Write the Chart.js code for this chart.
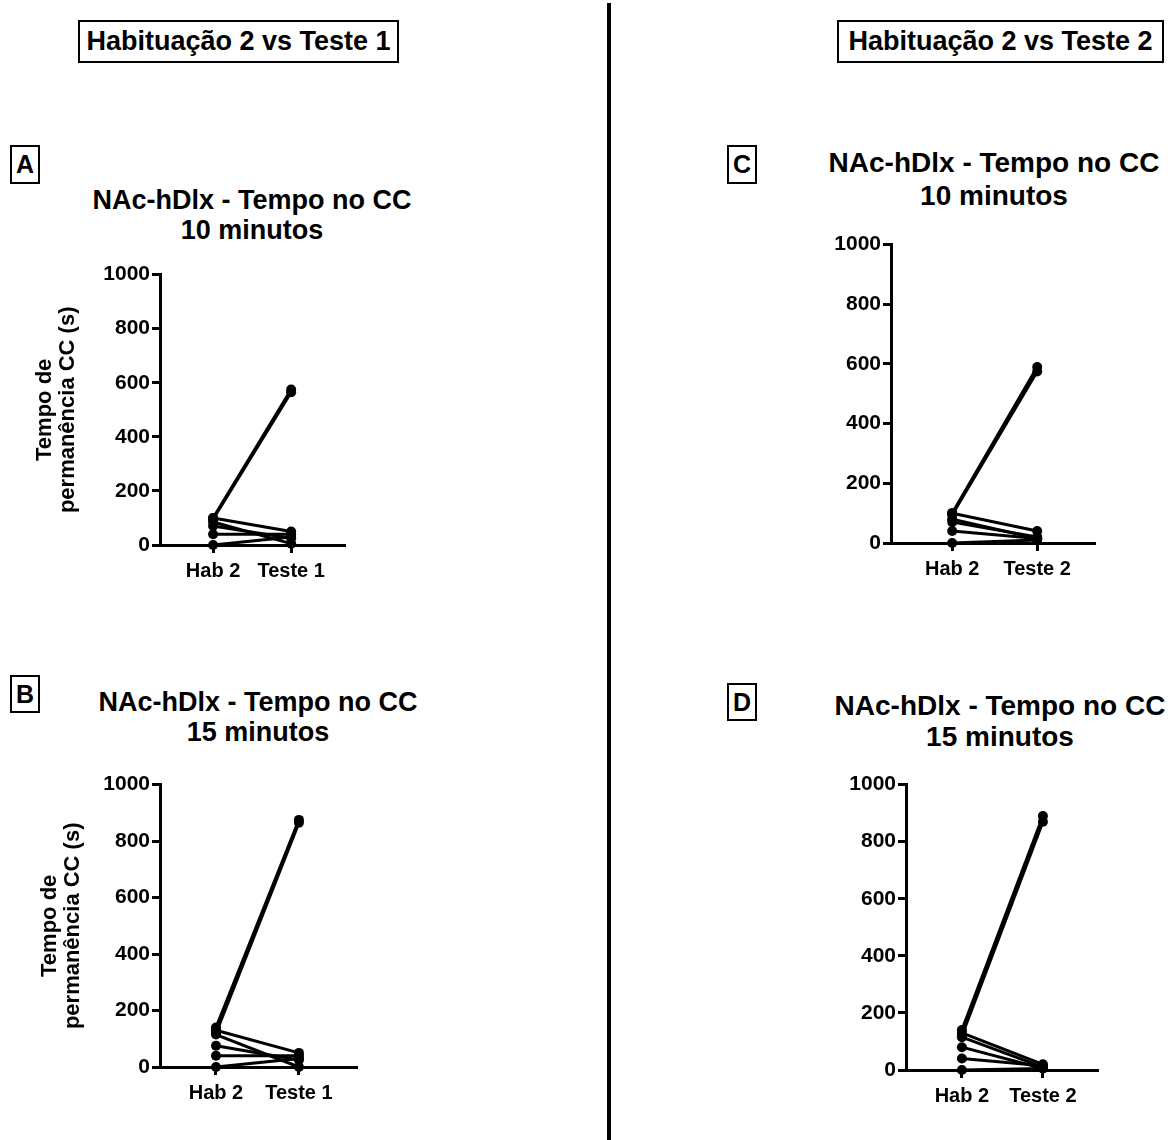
<!DOCTYPE html>
<html>
<head>
<meta charset="utf-8">
<script src="https://cdn.jsdelivr.net/npm/chart.js@4.4.1/dist/chart.umd.min.js"></script>
<style>
  body { margin: 0; background: #fff; font-family: Arial, 'Liberation Sans', sans-serif; }
  #page { position: relative; width: 1170px; height: 1140px; overflow: hidden; }
  .box { position: absolute; border: 2px solid #000; box-sizing: border-box; font-weight: bold; color: #000;
         display: flex; align-items: center; justify-content: center; }
  .title { position: absolute; font-weight: bold; color: #000; text-align: center; line-height: 30px; white-space: nowrap; }
  canvas { position: absolute; }
  #divider { position: absolute; left: 607px; top: 3px; width: 4px; height: 1140px; background: #000; }
</style>
</head>
<body>
<div id="page">
  <div id="divider"></div>
  <div class="box" style="left:78px;top:20px;width:321px;height:43px;font-size:27px;">Habituação 2 vs Teste 1</div>
  <div class="box" style="left:837px;top:20px;width:327px;height:43px;font-size:27px;">Habituação 2 vs Teste 2</div>

  <div class="box" style="left:10px;top:145px;width:30px;height:39px;font-size:25px;">A</div>
  <div class="box" style="left:10px;top:675px;width:30px;height:38px;font-size:25px;">B</div>
  <div class="box" style="left:727px;top:145px;width:30px;height:39px;font-size:25px;">C</div>
  <div class="box" style="left:727px;top:683px;width:30px;height:38px;font-size:25px;">D</div>

  <div class="title" style="left:52px;top:185px;width:400px;font-size:27px;">NAc-hDlx - Tempo no CC<br>10 minutos</div>
  <div class="title" style="left:58px;top:687px;width:400px;font-size:27px;">NAc-hDlx - Tempo no CC<br>15 minutos</div>
  <div class="title" style="left:794px;top:146px;width:400px;font-size:28px;line-height:33px;">NAc-hDlx - Tempo no CC<br>10 minutos</div>
  <div class="title" style="left:800px;top:690px;width:400px;font-size:28px;line-height:31px;">NAc-hDlx - Tempo no CC<br>15 minutos</div>

  <canvas id="chartA" width="330" height="330" style="left:30px;top:260px;"></canvas>
  <canvas id="chartB" width="335" height="340" style="left:35px;top:770px;"></canvas>
  <canvas id="chartC" width="295" height="360" style="left:815px;top:230px;"></canvas>
  <canvas id="chartD" width="290" height="340" style="left:820px;top:770px;"></canvas>
</div>

<script>
// categories and ticks
const labelsTeste1 = ['Hab 2', 'Teste 1'];
const labelsTeste2 = ['Hab 2', 'Teste 2'];
const yTicks = [0, 200, 400, 600, 800, 1000];
const yTitle = ['Tempo de', 'permanência CC (s)'];

// A: 10 minutos, Hab 2 vs Teste 1 (one value per animal)
const hab2A   = [100, 95, 100, 85, 70, 40, 0];
const teste1A = [575, 565, 50, 5, 25, 40, 30];

// B: 15 minutos, Hab 2 vs Teste 1
const hab2B   = [140, 120, 130, 115, 75, 40, 0];
const teste1B = [875, 865, 50, 0, 25, 40, 30];

// C: 10 minutos, Hab 2 vs Teste 2
const hab2C   = [100, 95, 100, 80, 70, 40, 0];
const teste2C = [590, 575, 40, 15, 20, 15, 10];

// D: 15 minutos, Hab 2 vs Teste 2
const hab2D   = [140, 120, 130, 115, 80, 40, 0];
const teste2D = [890, 870, 20, 10, 5, 15, 5];

Chart.defaults.font.family = "Arial, 'Liberation Sans', sans-serif";
Chart.defaults.color = '#000';

function pairedSets(before, after) {
  return before.map((v, i) => ({
    data: [{ x: 0, y: v }, { x: 1, y: after[i] }],
    borderColor: '#000',
    backgroundColor: '#000',
    borderWidth: 3,
    pointRadius: 5,
    pointBorderWidth: 0,
    clip: false
  }));
}

function createPairedChart(id, before, after, labels, layout) {
  const ctx = document.getElementById(id).getContext('2d');
  return new Chart(ctx, {
    type: 'line',
    data: { datasets: pairedSets(before, after) },
    options: {
      responsive: false,
      animation: false,
      layout: { padding: { top: layout.top, right: layout.right, left: 0, bottom: 0 } },
      plugins: { legend: { display: false }, tooltip: { enabled: false } },
      scales: {
        x: {
          type: 'linear',
          min: layout.xMin,
          max: layout.xMax,
          afterBuildTicks: s => { s.ticks = [{ value: 0 }, { value: 1 }]; },
          afterFit: s => { s.height = layout.xHeight; },
          ticks: {
            callback: v => labels[v],
            font: { size: 20, weight: 'bold' },
            color: '#000',
            padding: 6,
            maxRotation: 0
          },
          grid: { drawOnChartArea: false, tickLength: 8, tickWidth: 3, color: '#000' },
          border: { color: '#000', width: 3 }
        },
        y: {
          min: 0,
          max: 1000,
          afterBuildTicks: s => { s.ticks = yTicks.map(v => ({ value: v })); },
          afterFit: s => { s.width = layout.yWidth; },
          ticks: { callback: v => String(v), font: { size: 21, weight: 'bold' }, color: '#000', padding: 2 },
          grid: { drawOnChartArea: false, tickLength: 8, tickWidth: 3, color: '#000' },
          border: { color: '#000', width: 3 },
          title: {
            display: layout.showTitle,
            text: yTitle,
            font: { size: 22, weight: 'bold', lineHeight: 1.05 },
            color: '#000',
            padding: { top: 3, bottom: 0 }
          }
        }
      }
    }
  });
}

createPairedChart('chartA', hab2A, teste1A, labelsTeste1,
  { top: 13, right: 15, xHeight: 45, yWidth: 130, xMin: -0.68, xMax: 1.69, showTitle: true });
createPairedChart('chartB', hab2B, teste1B, labelsTeste1,
  { top: 13, right: 13, xHeight: 43, yWidth: 125, xMin: -0.675, xMax: 1.70, showTitle: true });
createPairedChart('chartC', hab2C, teste2C, labelsTeste2,
  { top: 13, right: 15, xHeight: 47, yWidth: 76, xMin: -0.72, xMax: 1.68, showTitle: false });
createPairedChart('chartD', hab2D, teste2D, labelsTeste2,
  { top: 12, right: 12, xHeight: 40, yWidth: 86, xMin: -0.69, xMax: 1.68, showTitle: false });
</script>
</body>
</html>
